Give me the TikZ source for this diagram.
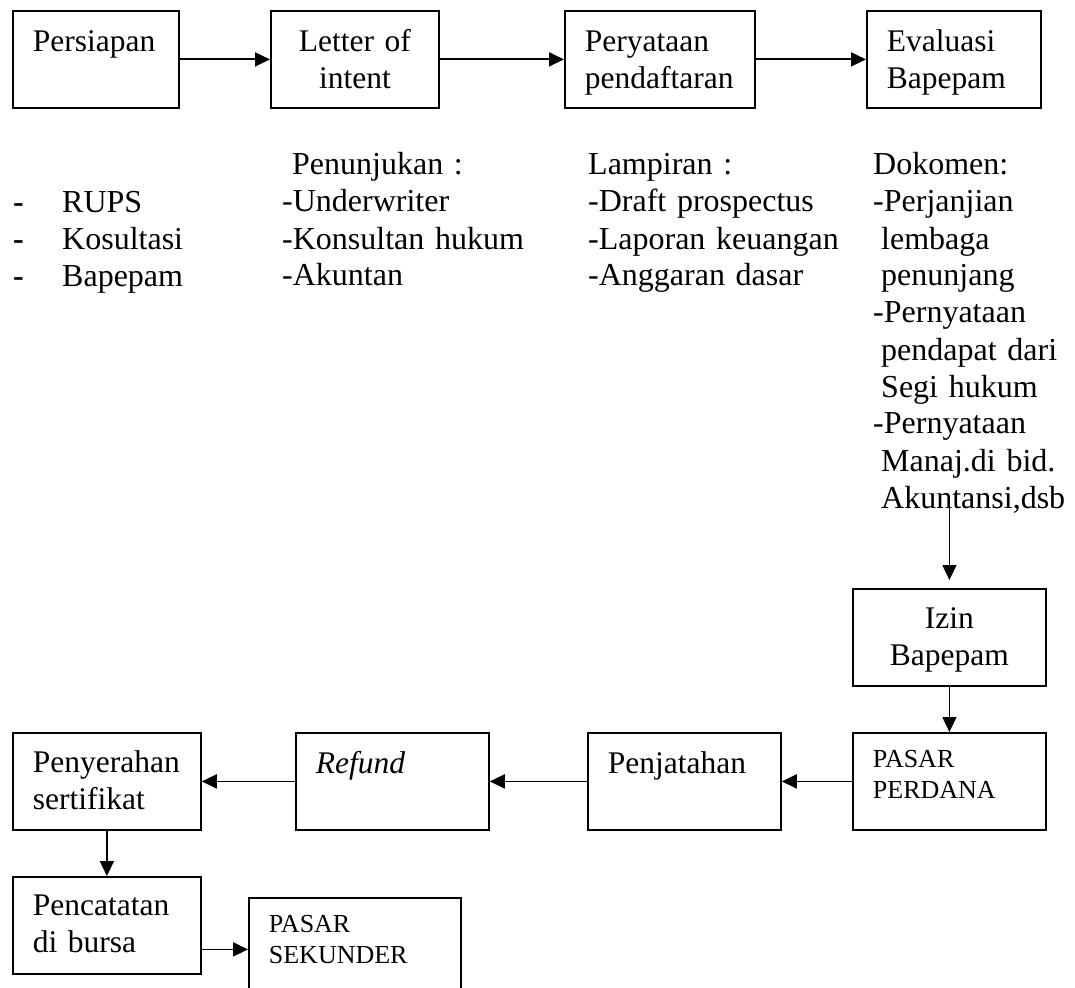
\documentclass[tikz,border=0pt]{standalone}
\usepackage{fontspec}
\setmainfont{Liberation Serif}
\usetikzlibrary{arrows.meta,positioning}

\tikzset{
  box/.style={draw, line width=1.8pt, anchor=north west, inner xsep=20pt, inner ysep=0pt,
    align=left, font=\fontsize{31.5}{37}\selectfont, text height=41pt, text depth=56pt},
  small/.style={font=\fontsize{26}{31}\selectfont, text height=35pt, text depth=62pt},
  list/.style={anchor=base west, align=left, inner sep=0pt, text width=290pt,
    font=\fontsize{32}{37}\selectfont},
  arr/.style={-{Triangle[length=15pt,width=14pt]}, line width=1.8pt},
}

\begin{document}
\begin{tikzpicture}[x=1pt, y=-1pt]
    \useasboundingbox (0,0) rectangle (1075,987);
    \clip (0,0) rectangle (1075,987);

    % baris atas
    \node[box, text width=126pt] (persiapan) at (12,10) {Persiapan};
    \node[box, text width=128pt, align=center] (letter) at (270,10) {Letter of\\intent};
    \node[box, text width=150pt] (peryataan) at (564,10) {Peryataan\\pendaftaran};
    \node[box, text width=134pt] (evaluasi) at (866,10) {Evaluasi\\Bapepam};

    \draw[arr] (persiapan) -- (letter);
    \draw[arr] (letter) -- (peryataan);
    \draw[arr] (peryataan) -- (evaluasi);

    % keterangan di bawah kotak
    \node[list] (rups) at (13,212)
        {\makebox[49pt][l]{\textbf{-}}RUPS\\\makebox[49pt][l]{\textbf{-}}Kosultasi\\\makebox[49pt][l]{\textbf{-}}Bapepam};
    \node[list] (penunjukan) at (282,175)
        {\hspace*{10pt}Penunjukan :\\-Underwriter\\-Konsultan hukum\\-Akuntan};
    \node[list] (lampiran) at (588,175)
        {Lampiran :\\-Draft prospectus\\-Laporan keuangan\\-Anggaran dasar};
    \node[list, text width=260pt] (dokomen) at (873,175)
        {Dokomen:\\-Perjanjian\\\hspace*{8pt}lembaga\\\hspace*{8pt}penunjang\\-Pernyataan\\\hspace*{8pt}pendapat dari\\\hspace*{8pt}Segi hukum\\-Pernyataan\\\hspace*{8pt}Manaj.di bid.\\\hspace*{8pt}Akuntansi,dsb};

    % kolom kanan
    \node[box, text width=153pt, align=center, text height=40pt, text depth=57pt] (izin) at (852,588) {Izin\\Bapepam};
    \node[box, small, text width=153pt] (perdana) at (852,732) {PASAR\\PERDANA};

    \draw[arr, shorten >=8pt] ([yshift=5pt]dokomen.south -| izin.north) -- (izin.north);
    \draw[arr] (izin) -- (perdana);

    % baris bawah
    \node[box, text width=153pt] (penjatahan) at (587,732) {Penjatahan};
    \node[box, text width=153pt] (refund) at (295,732) {\textit{Refund}};
    \node[box, text width=148pt, text height=40pt, text depth=57pt] (penyerahan) at (12,732) {Penyerahan\\sertifikat};
    \node[box, text width=148pt, text height=39pt, text depth=58pt] (pencatatan) at (12,876) {Pencatatan\\di bursa};
    \node[box, small, text width=172pt, text depth=100pt] (sekunder) at (248,897) {PASAR\\SEKUNDER};

    \draw[arr] (perdana) -- (penjatahan);
    \draw[arr] (penjatahan) -- (refund);
    \draw[arr] (refund) -- (penyerahan);
    \draw[arr] (penyerahan) -- (pencatatan);
    \draw[arr] ([yshift=-24pt]pencatatan.east) -- ([yshift=-24pt]pencatatan.east -| sekunder.west);
\end{tikzpicture}
\end{document}
